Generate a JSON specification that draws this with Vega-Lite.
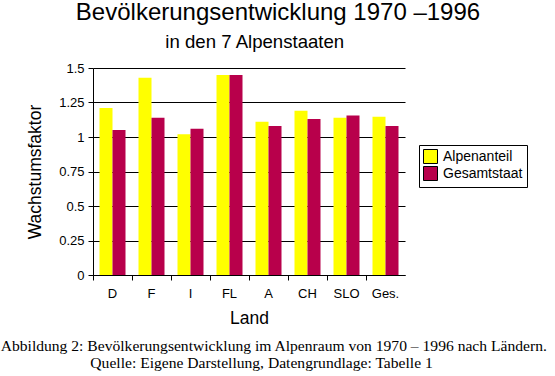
{
  "$schema": "https://vega.github.io/schema/vega-lite/v6.json",
  "padding": {"left": 0, "top": 1, "right": 0, "bottom": 0},
  "background": "white",
  "title": {
    "text": [
      "Abbildung 2: Bevölkerungsentwicklung im Alpenraum von 1970 – 1996 nach Ländern.",
      "\u200b\u00a0\u00a0\u00a0\u00a0\u00a0\u00a0\u00a0\u00a0\u00a0\u00a0\u00a0\u00a0\u00a0\u00a0\u00a0\u00a0\u00a0\u00a0\u00a0\u00a0\u00a0\u00a0\u00a0Quelle: Eigene Darstellung, Datengrundlage: Tabelle 1"
    ],
    "orient": "bottom",
    "anchor": "start",
    "frame": "bounds",
    "font": "Liberation Serif",
    "fontSize": 15.6,
    "lineHeight": 17,
    "fontWeight": "normal",
    "color": "black",
    "offset": 12,
    "dx": -26
  },
  "vconcat": [
    {
      "width": 312,
      "height": 207,
      "title": {
        "text": "Bevölkerungsentwicklung 1970 –1996",
        "subtitle": "in den 7 Alpenstaaten\u00a0\u00a0\u00a0\u00a0\u00a0\u00a0\u00a0\u00a0\u00a0\u200b",
        "orient": "top",
        "anchor": "middle",
        "frame": "group",
        "font": "Liberation Sans",
        "fontSize": 24,
        "fontWeight": "normal",
        "color": "black",
        "subtitleFont": "Liberation Sans",
        "subtitleFontSize": 18.6,
        "subtitleColor": "black",
        "subtitlePadding": 8,
        "offset": 10,
        "dx": 29
      },
      "data": {
        "values": [
          {"Land": "D", "Reihe": "Alpenanteil", "Wert": 1.21},
          {"Land": "D", "Reihe": "Gesamtstaat", "Wert": 1.05},
          {"Land": "F", "Reihe": "Alpenanteil", "Wert": 1.43},
          {"Land": "F", "Reihe": "Gesamtstaat", "Wert": 1.14},
          {"Land": "I", "Reihe": "Alpenanteil", "Wert": 1.02},
          {"Land": "I", "Reihe": "Gesamtstaat", "Wert": 1.06},
          {"Land": "FL", "Reihe": "Alpenanteil", "Wert": 1.45},
          {"Land": "FL", "Reihe": "Gesamtstaat", "Wert": 1.45},
          {"Land": "A", "Reihe": "Alpenanteil", "Wert": 1.11},
          {"Land": "A", "Reihe": "Gesamtstaat", "Wert": 1.08},
          {"Land": "CH", "Reihe": "Alpenanteil", "Wert": 1.19},
          {"Land": "CH", "Reihe": "Gesamtstaat", "Wert": 1.13},
          {"Land": "SLO", "Reihe": "Alpenanteil", "Wert": 1.14},
          {"Land": "SLO", "Reihe": "Gesamtstaat", "Wert": 1.155},
          {"Land": "Ges.", "Reihe": "Alpenanteil", "Wert": 1.147},
          {"Land": "Ges.", "Reihe": "Gesamtstaat", "Wert": 1.08}
        ]
      },
      "mark": {"type": "bar"},
      "encoding": {
        "x": {
          "field": "Land",
          "type": "nominal",
          "sort": ["D", "F", "I", "FL", "A", "CH", "SLO", "Ges."],
          "scale": {"paddingInner": 0, "paddingOuter": 0},
          "axis": {
            "title": "Land",
            "labelAngle": 0,
            "bandPosition": 0,
            "labelPadding": 7,
            "titlePadding": 9,
            "grid": false
          }
        },
        "xOffset": {
          "field": "Reihe",
          "type": "nominal",
          "sort": ["Alpenanteil", "Gesamtstaat"],
          "scale": {"paddingInner": 0, "paddingOuter": 0.5}
        },
        "y": {
          "field": "Wert",
          "type": "quantitative",
          "scale": {"domain": [0, 1.5], "nice": false},
          "axis": {
            "title": "Wachstumsfaktor",
            "values": [0, 0.25, 0.5, 0.75, 1, 1.25, 1.5],
            "format": ".2~f",
            "grid": true,
            "labelPadding": 4,
            "titlePadding": 14
          }
        },
        "color": {
          "field": "Reihe",
          "type": "nominal",
          "sort": ["Alpenanteil", "Gesamtstaat"],
          "scale": {"domain": ["Alpenanteil", "Gesamtstaat"], "range": ["#ffff00", "#b8004b"]},
          "legend": {
            "title": null,
            "orient": "none",
            "legendX": 326,
            "legendY": 77,
            "padding": 4,
            "strokeColor": "black",
            "fillColor": "white",
            "symbolType": "square",
            "symbolSize": 196,
            "symbolStrokeColor": "black",
            "symbolStrokeWidth": 1,
            "symbolOpacity": 1,
            "labelFont": "Liberation Sans",
            "labelFontSize": 14,
            "labelColor": "black",
            "labelOffset": 5,
            "rowPadding": -3
          }
        }
      }
    }
  ],
  "config": {
    "view": {"stroke": null},
    "concat": {"spacing": 0},
    "axis": {
      "labelFont": "Liberation Sans",
      "labelFontSize": 13,
      "labelColor": "black",
      "titleFont": "Liberation Sans",
      "titleFontSize": 17.5,
      "titleFontWeight": "normal",
      "titleColor": "black",
      "domainColor": "black",
      "domainWidth": 1,
      "tickColor": "black",
      "tickWidth": 1,
      "tickSize": 5,
      "gridColor": "black",
      "gridOpacity": 1,
      "gridWidth": 1
    }
  }
}
